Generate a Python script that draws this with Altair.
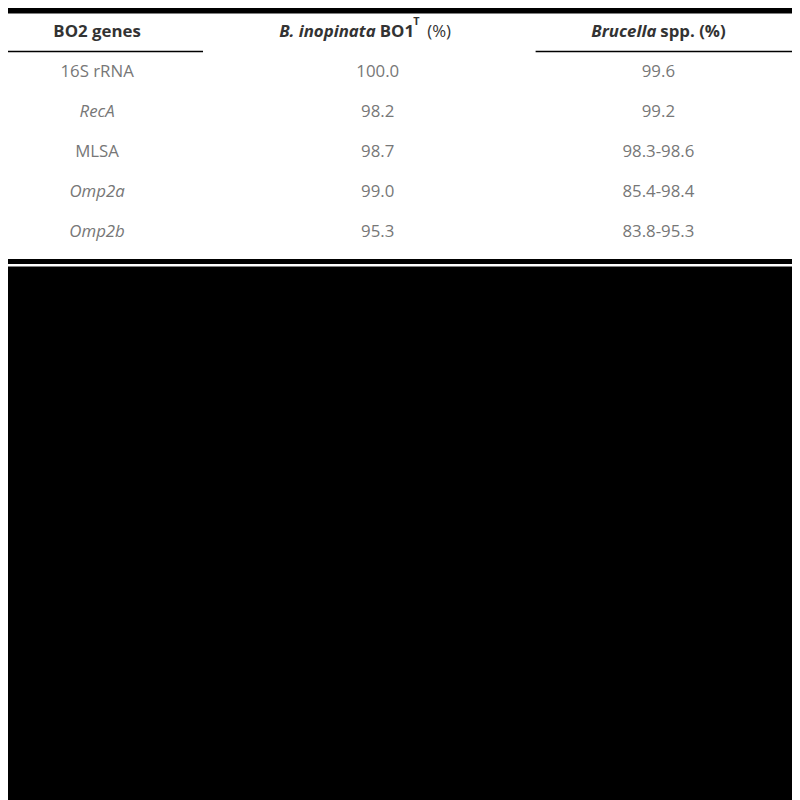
import pandas as pd
import altair as alt

genes = ["16S rRNA", "RecA", "MLSA", "Omp2a", "Omp2b"]
gene_italic = [False, True, False, True, True]
bo1 = ["100.0", "98.2", "98.7", "99.0", "95.3"]
brucella = ["99.6", "99.2", "98.3-98.6", "85.4-98.4", "83.8-95.3"]

W, H = 792, 792
rows = ["head"] + genes
cols = ["gene", "bo1", "bru"]

xs = alt.Scale(type="point", domain=cols, range=[90, 657], padding=0)
ys = alt.Scale(type="point", domain=rows, range=[20, 222], padding=0)

body = pd.DataFrame({
    "row": genes * 3,
    "col": ["gene"] * 5 + ["bo1"] * 5 + ["bru"] * 5,
    "txt": genes + bo1 + brucella,
    "it": [("italic" if i else "normal") for i in gene_italic] + ["normal"] * 10,
})

bg = alt.Chart(pd.DataFrame({"a": [0]})).mark_rect(color="white").encode(
    x=alt.value(0), x2=alt.value(W), y=alt.value(0), y2=alt.value(257))

def txt(df, **kw):
    return alt.Chart(df).mark_text(font="Open Sans", baseline="middle", **kw).encode(
        x=alt.X("col:N", scale=xs, axis=None),
        y=alt.Y("row:N", scale=ys, axis=None),
        text="txt:N")

normal = txt(body[body.it == "normal"], fontSize=17, color="#777777")
italic = txt(body[body.it == "italic"], fontSize=17, color="#777777", fontStyle="italic")

h = lambda col, t: pd.DataFrame({"row": ["head"], "col": [col], "txt": [t]})
hdr = [
    txt(h("gene", "BO2 genes"), fontSize=17, fontWeight="bold", color="#333333"),
    txt(h("bo1", "B. inopinata"), fontSize=17, fontWeight="bold", fontStyle="italic",
        color="#333333", align="right", dx=-2),
    txt(h("bo1", "BO1"), fontSize=17, fontWeight="bold", color="#333333", align="left", dx=2),
    txt(h("bo1", "T"), fontSize=11, fontWeight="bold", color="#333333", align="left", dx=36, dy=-10),
    txt(h("bo1", "(%)"), fontSize=17, color="#333333", align="left", dx=50),
    txt(h("bru", "Brucella"), fontSize=17, fontWeight="bold", fontStyle="italic",
        color="#333333", align="right", dx=-2),
    txt(h("bru", "spp. (%)"), fontSize=17, fontWeight="bold", color="#333333", align="left", dx=2),
]

rules = alt.Chart(pd.DataFrame({"y": [0, 40, 40, 252],
                                "x1": [0, 0, 533, 0], "x2": [W, 197, W, W],
                                "s": [3, 1.5, 1.5, 5]})).mark_rule(color="black").encode(
    x=alt.X("x1:Q", scale=alt.Scale(domain=[0, W]), axis=None), x2="x2:Q",
    y=alt.Y("y:Q", scale=alt.Scale(domain=[0, H], range=[0, H]), axis=None),
    strokeWidth=alt.StrokeWidth("s:Q", scale=None))

chart = alt.layer(bg, rules, normal, italic, *hdr).resolve_scale(y="independent", x="independent").properties(
    width=W, height=H, background="black", padding=0, autosize="none"
).configure_view(stroke=None)

chart.save("out.html", embed_options={"renderer": "svg", "actions": False})
